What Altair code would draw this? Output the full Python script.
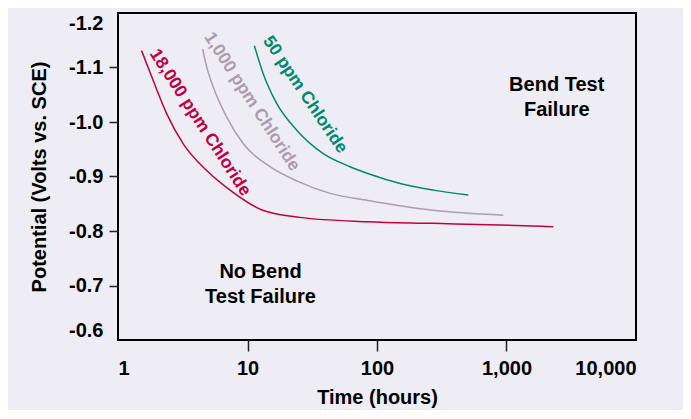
import altair as alt
import pandas as pd

# ---- data ----
t_18000 = [1.52, 1.87, 2.38, 3.19, 4.84, 7.33, 13.1, 25.4, 83.3, 272, 891, 2300]
v_18000 = [-1.131, -1.076, -1.015, -0.960, -0.911, -0.875, -0.838, -0.825, -0.817, -0.814, -0.811, -0.808]

t_1000 = [4.51, 4.70, 5.44, 6.91, 9.28, 14.9, 24.5, 43.4, 85.3, 272, 945]
v_1000 = [-1.134, -1.113, -1.064, -1.009, -0.960, -0.918, -0.891, -0.869, -0.856, -0.838, -0.829]

t_50 = [11.3, 13.2, 16.8, 24.0, 38.5, 61.9, 88.3, 151, 272, 507]
v_50 = [-1.140, -1.089, -1.034, -0.985, -0.942, -0.918, -0.904, -0.887, -0.875, -0.866]

series_names = ["18,000 ppm Chloride", "1,000 ppm Chloride", "50 ppm Chloride"]
series_colors = ["#c0003f", "#ad9bb0", "#00896e"]

label_t = [4.3, 10.8, 27.8]
label_v = [-0.999, -1.037, -1.050]
label_angle = [57, 57, 56]

region_text = ["Bend Test\nFailure", "No Bend\nTest Failure"]
region_t = [2442, 12.6]
region_v = [-1.067, -0.725]

x_ticks = [1, 10, 100, 1000, 10000]
y_ticks = [-1.2, -1.1, -1.0, -0.9, -0.8, -0.7, -0.6]

BG = "#eeedf5"
FONT = "Liberation Sans"

rows = []
for name, ts, vs in zip(series_names, [t_18000, t_1000, t_50], [v_18000, v_1000, v_50]):
    for i, (t, v) in enumerate(zip(ts, vs)):
        rows.append({"series": name, "t": t, "v": v, "order": i})
df = pd.DataFrame(rows)

labels = pd.DataFrame({"series": series_names, "t": label_t, "v": label_v, "angle": label_angle})
regions = pd.DataFrame({"text": region_text, "t": region_t, "v": region_v})

xscale = alt.Scale(type="log", domain=[1, 10000])
yscale = alt.Scale(domain=[-1.2, -0.6], reverse=True, zero=False)
color_scale = alt.Scale(domain=series_names, range=series_colors)

x_axis = alt.Axis(
    values=x_ticks, format=",d", title="Time (hours)",
    tickSize=11, labelPadding=7, titlePadding=9,
    tickOpacity={"condition": {"test": "datum.value <= 1 || datum.value >= 10000", "value": 0}, "value": 1},
)
y_axis = alt.Axis(
    values=y_ticks, title="Potential (Volts vs. SCE)",
    labelExpr="'-' + format(abs(datum.value), '.1f')",
    tickSize=9, labelPadding=6, titlePadding=19, labelFlush=True,
    tickOpacity={"condition": {"test": "datum.value <= -1.15 || datum.value >= -0.65", "value": 0}, "value": 1},
)

lines = alt.Chart(df).mark_line(strokeWidth=1.5, interpolate="monotone").encode(
    x=alt.X("t:Q", scale=xscale, axis=x_axis),
    y=alt.Y("v:Q", scale=yscale, axis=y_axis),
    color=alt.Color("series:N", scale=color_scale, legend=None),
    order="order:Q",
)

curve_labels = alt.Chart(labels).mark_text(
    font=FONT, fontSize=17.5, fontWeight="bold", align="center", baseline="middle"
).encode(
    x=alt.X("t:Q", scale=xscale),
    y=alt.Y("v:Q", scale=yscale),
    text="series:N",
    angle=alt.Angle("angle:Q", scale=None),
    color=alt.Color("series:N", scale=color_scale, legend=None),
)

region_labels = alt.Chart(regions).mark_text(
    font=FONT, fontSize=20, fontWeight="bold", align="center", baseline="middle",
    lineBreak="\n", lineHeight=25, color="black",
).encode(
    x=alt.X("t:Q", scale=xscale),
    y=alt.Y("v:Q", scale=yscale),
    text="text:N",
)

chart = alt.layer(lines, curve_labels, region_labels).properties(
    width=518, height=327,
    autosize=alt.AutoSizeParams(type="none"),
    padding={"left": 110, "top": 5, "right": 47, "bottom": 70},
    background=BG,
).configure_view(
    stroke="black", strokeWidth=2, fill=BG,
).configure_axis(
    grid=False, domain=False,
    labelFont=FONT, labelFontSize=20, labelFontWeight="bold", labelColor="black",
    titleFont=FONT, titleFontSize=20, titleFontWeight="bold", titleColor="black",
    tickColor="#222", tickWidth=1.5,
)

chart.save("out.html", embed_options={"renderer": "svg", "actions": False})
